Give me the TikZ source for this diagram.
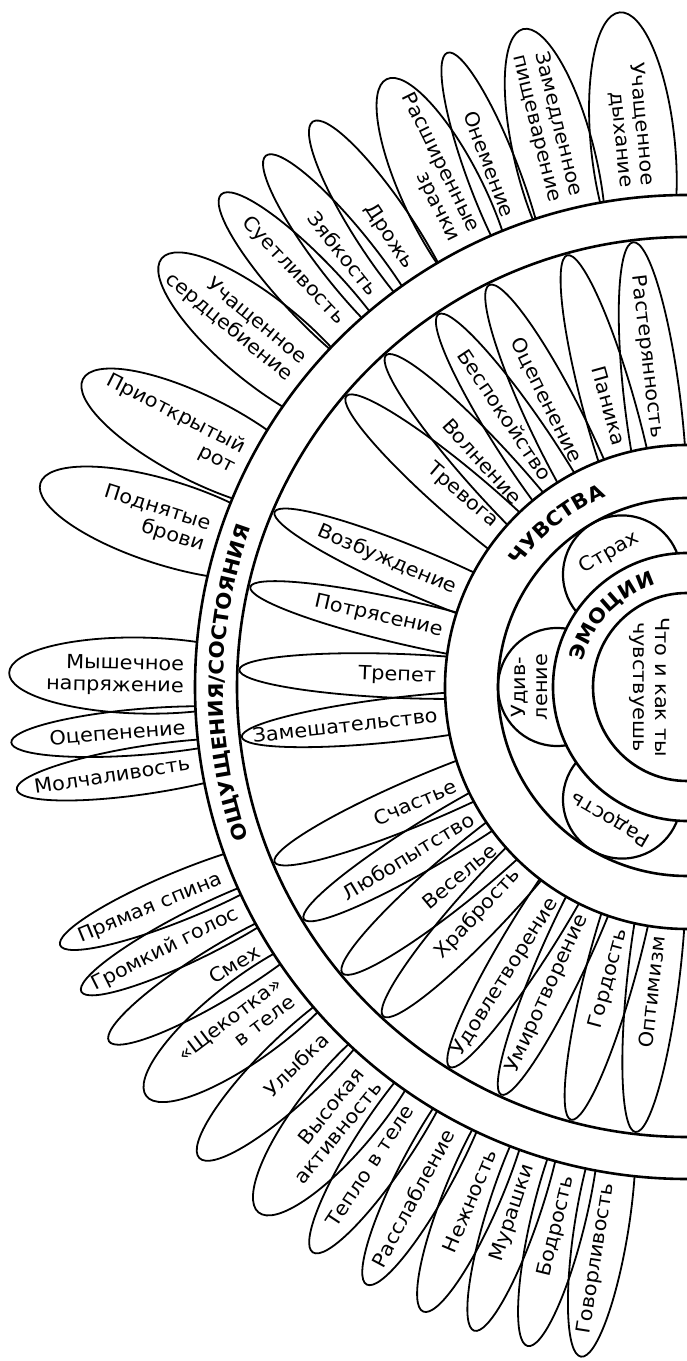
\documentclass[tikz,border=0pt]{standalone}
\usepackage{fontspec}
\setmainfont[FakeStretch=1.07]{DejaVu Sans}
\usetikzlibrary{decorations.text}
\tikzset{
  petal/.style={line width=1.8pt},
  ring/.style={line width=2.6pt},
  bump/.style={line width=2.2pt},
  lbl/.style={font=\fontsize{19.5}{22}\selectfont, inner sep=0pt, align=right},
  ctr/.style={font=\fontsize{19.5}{22}\selectfont, inner sep=0pt, align=center},
}
\begin{document}
\begin{tikzpicture}[x=1pt,y=1pt]
\useasboundingbox (0,0) rectangle (687,1361);
\fill[white] (0,0) rectangle (687,1361);
\clip (0,0) rectangle (687,1361);
\begin{scope}[shift={(687,674)}]
% outer petals
\foreach \ang/\wid/\txt [count=\i] in {
  95.7/42/{Учащенное\\дыхание},
  104/40/{Замедленное\\пищеварение},
  110.7/26/{Онемение},
  116.3/40/{Расширенные\\зрачки},
  123.5/29/{Дрожь},
  128.4/28/{Зябкость},
  133.4/30/{Суетливость},
  140.8/42/{Учащенное\\сердцебиение},
  153/42/{Приоткрытый\\рот},
  162.5/42/{Поднятые\\брови},
  178.8/38/{Мышечное\\напряжение},
  184.7/23/{Оцепенение},
  188.7/24/{Молчаливость},
  202.4/24/{Прямая спина},
  206.7/24/{Громкий голос},
  211.5/26/{Смех},
  217.1/40/{«Щекотка»\\в теле},
  224/32/{Улыбка},
  230.8/40/{Высокая\\активность},
  236.5/28/{Тепло в теле},
  241.8/27/{Расслабление},
  247.1/28/{Нежность},
  251.7/26/{Мурашки},
  256.4/27/{Бодрость},
  261/27/{Говорливость}} {
  \draw[petal, shift={(\ang:545pt)}, rotate=\ang] (0,0) ellipse [x radius=133pt, y radius=\wid pt];
}
\fill[white] (0,0) circle[radius=492pt];
\draw[ring] (0,0) circle[radius=492pt];
\draw[ring] (0,0) circle[radius=450pt];
% feelings petals
\foreach \ang/\wid/\txt [count=\i] in {
  96.9/28/{Растерянность},
  105.5/26/{Паника},
  116.2/27/{Оцепенение},
  123.7/26/{Беспокойство},
  132.2/25/{Волнение},
  139.5/25/{Тревога},
  157/23/{Возбуждение},
  167.1/22/{Потрясение},
  177.8/22/{Трепет},
  186.4/22/{Замешательство},
  203/23/{Счастье},
  211.2/23/{Любопытство},
  219.7/25/{Веселье},
  227.3/25/{Храбрость},
  238/24/{Удовлетворение},
  245.5/24/{Умиротворение},
  255/25/{Гордость},
  263.4/26/{Оптимизм}} {
  \draw[petal, shift={(\ang:285pt)}, rotate=\ang] (0,0) ellipse [x radius=163pt, y radius=\wid pt];
}
\fill[white] (0,0) circle[radius=242pt];
\draw[ring] (0,0) circle[radius=242pt];
\draw[ring] (0,0) circle[radius=189pt];
% emotion bumps
\draw[bump] (120:130pt) circle[radius=59pt];
\draw[bump] (180:130pt) circle[radius=59pt];
\draw[bump] (240:130pt) circle[radius=59pt];
\fill[white] (0,0) circle[radius=134pt];
\draw[ring] (0,0) circle[radius=134pt];
\draw[ring] (0,0) circle[radius=94pt];
% labels: outer
\foreach \ang/\txt [count=\i] in {
  95.7/{Учащенное\\дыхание},
  104/{Замедленное\\пищеварение},
  110.7/{Онемение},
  116.3/{Расширенные\\зрачки},
  123.5/{Дрожь},
  128.4/{Зябкость},
  133.4/{Суетливость},
  140.8/{Учащенное\\сердцебиение},
  153/{Приоткрытый\\рот},
  162.5/{Поднятые\\брови},
  178.8/{Мышечное\\напряжение},
  184.7/{Оцепенение},
  188.7/{Молчаливость},
  202.4/{Прямая спина},
  206.7/{Громкий голос},
  211.5/{Смех},
  217.1/{«Щекотка»\\в теле},
  224/{Улыбка},
  230.8/{Высокая\\активность},
  236.5/{Тепло в теле},
  241.8/{Расслабление},
  247.1/{Нежность},
  251.7/{Мурашки},
  256.4/{Бодрость},
  261/{Говорливость}} {
  \node[lbl, rotate=\ang-180, anchor=east] (o\i) at (\ang:503pt) {\txt};
}
% labels: feelings
\foreach \ang/\txt [count=\i] in {
  96.9/{Растерянность},
  105.5/{Паника},
  116.2/{Оцепенение},
  123.7/{Беспокойство},
  132.2/{Волнение},
  139.5/{Тревога},
  157/{Возбуждение},
  167.1/{Потрясение},
  177.8/{Трепет},
  186.4/{Замешательство},
  203/{Счастье},
  211.2/{Любопытство},
  219.7/{Веселье},
  227.3/{Храбрость},
  238/{Удовлетворение},
  245.5/{Умиротворение},
  255/{Гордость},
  263.4/{Оптимизм}} {
  \node[lbl, rotate=\ang-180, anchor=east] (f\i) at (\ang:251pt) {\txt};
}
% emotions
\node[ctr, rotate=30] (e1) at (120:155pt) {Страх};
\node[ctr, rotate=90] (e2) at (180:157pt) {Удив-\\ление};
\node[ctr, rotate=150] (e3) at (240:153pt) {Радость};
\node[ctr, rotate=-90] (core) at (180:37pt) {Что и как ты\\чувствуешь};
% ring titles
\path[decorate, decoration={text along path, text align=center,
  text={|\bfseries\fontsize{20}{20}\selectfont|ОЩУЩЕНИЯ/СОСТОЯНИЯ}}]
  (209.5:464pt) arc[start angle=209.5, end angle=149.5, radius=464pt];
\path[decorate, decoration={text along path, text align=center,
  text={|\bfseries\fontsize{20}{20}\selectfont|ЧУВСТВА}}]
  (168.7:207pt) arc[start angle=168.7, end angle=88.7, radius=207pt];
\path[decorate, decoration={text along path, text align=center,
  text={|\bfseries\fontsize{20}{20}\selectfont|ЭМОЦИИ}}]
  (186.6:107pt) arc[start angle=186.6, end angle=86.6, radius=107pt];
\end{scope}
\end{tikzpicture}
\end{document}
